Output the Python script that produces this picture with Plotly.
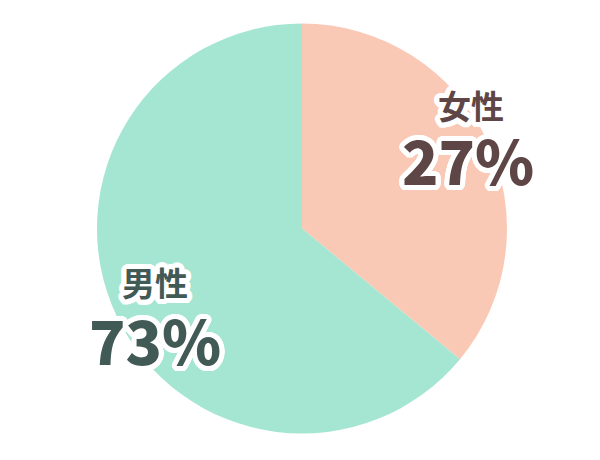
import math
import plotly.graph_objects as go

categories = ["女性", "男性"]
values = [36, 64]
pct_labels = ["27%", "73%"]
colors = ["#F9C9B6", "#A5E6D2"]
text_colors = ["#5E4646", "#425A56"]

OFF = 8  # page body margin

fig = go.Figure(go.Pie(
    labels=categories,
    values=values,
    sort=False,
    direction="clockwise",
    rotation=0,
    marker=dict(colors=colors, line=dict(width=0)),
    textinfo="none",
    hoverinfo="label+percent",
    showlegend=False,
    domain=dict(x=[(97 - OFF)/600, (507 - OFF)/600],
                y=[1 - (435 - OFF)/460, 1 - (22 - OFF)/460]),
))

offs = []
r = 5
for k in range(28):
    a = 2 * math.pi * k / 28
    offs.append((round(r * math.cos(a), 1), round(r * math.sin(a), 1)))
stroke = ", ".join(f"{dx}px {dy}px 0 #ffffff" for dx, dy in offs)

pos = [((471, 105), (468, 158)), ((155, 282), (155, 338))]
anns = []
for i in range(2):
    (x1, y1), (x2, y2) = pos[i]
    anns.append(dict(x=(x1 - OFF)/600, y=1 - (y1 - OFF)/460, xref="paper", yref="paper",
                     text=categories[i], showarrow=False, xanchor="center", yanchor="middle",
                     font=dict(family="Noto Sans CJK JP", size=33, color=text_colors[i],
                               weight="bold", shadow=stroke)))
    anns.append(dict(x=(x2 - OFF)/600, y=1 - (y2 - OFF)/460, xref="paper", yref="paper",
                     text=pct_labels[i], showarrow=False, xanchor="center", yanchor="middle",
                     font=dict(family="Noto Sans CJK JP", size=60, color=text_colors[i],
                               weight=900, shadow=stroke)))

fig.update_layout(
    width=600, height=460,
    margin=dict(l=0, r=0, t=0, b=0),
    paper_bgcolor="#ffffff",
    plot_bgcolor="#ffffff",
    annotations=anns,
)
fig.write_html("out.html")
